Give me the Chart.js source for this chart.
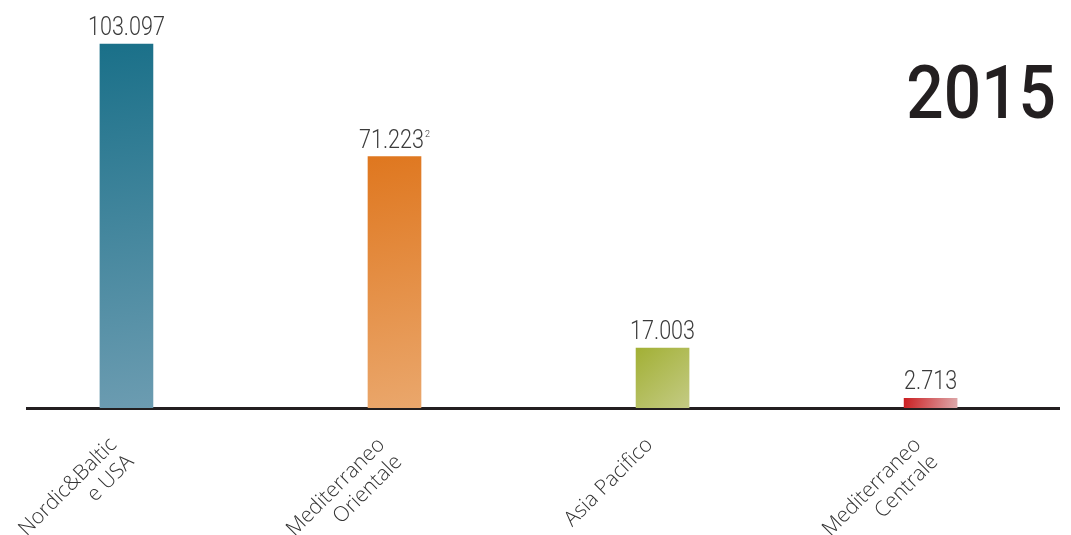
<!DOCTYPE html>
<html>
<head>
<meta charset="utf-8">
<script src="https://cdn.jsdelivr.net/npm/chart.js@4"></script>
<style>
  html, body { margin: 0; padding: 0; background: #fff; }
  #wrap { width: 1071px; height: 535px; }
</style>
</head>
<body>
<div id="wrap"><canvas id="chartAree" width="1071" height="535"></canvas></div>
<script>
// dati
const anno = '2015';
const aree = [['Nordic&Baltic', 'e USA'], ['Mediterraneo', 'Orientale'], ['Asia Pacifico'], ['Mediterraneo', 'Centrale']];
const valori = [103097, 71223, 17003, 2713];
const note = ['', '2', '', ''];
const coloriAlto = ['#1a7089', '#df771f', '#a2b035', '#cb1f22'];
const coloriBasso = ['#6c9cb1', '#eaa76c', '#c4cb84', '#dda9ab'];

const fmt = n => String(n).replace(/\B(?=(\d{3})+(?!\d))/g, '.');

// gradiente diagonale per ogni barra
function coloreBarra(ctx) {
  const chart = ctx.chart;
  const i = ctx.dataIndex;
  if (!chart.chartArea || i === undefined) return coloriAlto[i || 0];
  const sx = chart.scales.x, sy = chart.scales.y;
  const cx = sx.getPixelForValue(i);
  const w = 53;
  const top = sy.getPixelForValue(valori[i]);
  const bot = sy.getPixelForValue(0);
  const g = chart.ctx.createLinearGradient(cx - w / 2, top, cx + w / 2, bot);
  g.addColorStop(0, coloriAlto[i]);
  g.addColorStop(1, coloriBasso[i]);
  return g;
}

const etichette = {
  id: 'etichette',
  afterDatasetsDraw(chart) {
    const ctx = chart.ctx;
    const meta = chart.getDatasetMeta(0);
    const sc = 0.83;
    ctx.save();
    ctx.fillStyle = '#3b3b3b';
    ctx.textBaseline = 'alphabetic';
    meta.data.forEach((bar, i) => {
      const txt = fmt(valori[i]);
      ctx.font = '300 26px Roboto, "Liberation Sans", sans-serif';
      const w = ctx.measureText(txt).width * sc;
      let wn = 0;
      if (note[i]) {
        ctx.font = '300 9px Roboto, sans-serif';
        wn = ctx.measureText(note[i]).width + 1;
      }
      const x0 = bar.x - (w + wn) / 2;
      const y0 = bar.y - 9;
      ctx.font = '300 26px Roboto, "Liberation Sans", sans-serif';
      ctx.save();
      ctx.translate(x0, y0);
      ctx.scale(sc, 1);
      ctx.textAlign = 'left';
      ctx.fillText(txt, 0, 0);
      ctx.restore();
      if (note[i]) {
        ctx.font = '300 9px Roboto, sans-serif';
        ctx.textAlign = 'left';
        ctx.fillText(note[i], x0 + w + 1, y0 - 11);
      }
    });
    // anno
    const ca = chart.chartArea;
    ctx.fillStyle = '#231f20';
    ctx.font = '500 74px Roboto, "Liberation Sans", sans-serif';
    const sa = 0.89;
    const wa = ctx.measureText(anno).width * sa;
    ctx.save();
    ctx.translate(ca.right - 3 - wa, 118);
    ctx.scale(sa, 1);
    ctx.textAlign = 'left';
    ctx.fillText(anno, 0, 0);
    ctx.restore();
    ctx.restore();
  }
};

new Chart(document.getElementById('chartAree').getContext('2d'), {
  type: 'bar',
  data: {
    datasets: [{
      data: valori.map((v, i) => ({ x: i, y: v })),
      backgroundColor: coloreBarra,
      borderWidth: 0,
      barThickness: 53
    }]
  },
  options: {
    responsive: false,
    animation: false,
    layout: { padding: { top: 2, left: 27, right: 12, bottom: 0 } },
    plugins: { legend: { display: false }, tooltip: { enabled: false } },
    scales: {
      x: {
        type: 'linear',
        min: -0.371,
        max: 3.479,
        offset: false,
        bounds: 'data',
        grid: { display: false, drawTicks: false, offset: false },
        border: { display: true, color: '#231f20', width: 3 },
        afterBuildTicks: s => { s.ticks = aree.map((a, i) => ({ value: i })); },
        afterFit: s => { s.height = 127; },
        ticks: {
          autoSkip: false,
          minRotation: 45,
          maxRotation: 45,
          padding: 25,
          labelOffset: -13,
          color: '#333',
          font: { family: '"Open Sans", "DejaVu Sans", sans-serif', size: 21, weight: 300, lineHeight: 1.15 },
          callback: v => aree[v]
        }
      },
      y: {
        display: false,
        min: 0,
        max: 115000
      }
    }
  },
  plugins: [etichette]
});
</script>
</body>
</html>
